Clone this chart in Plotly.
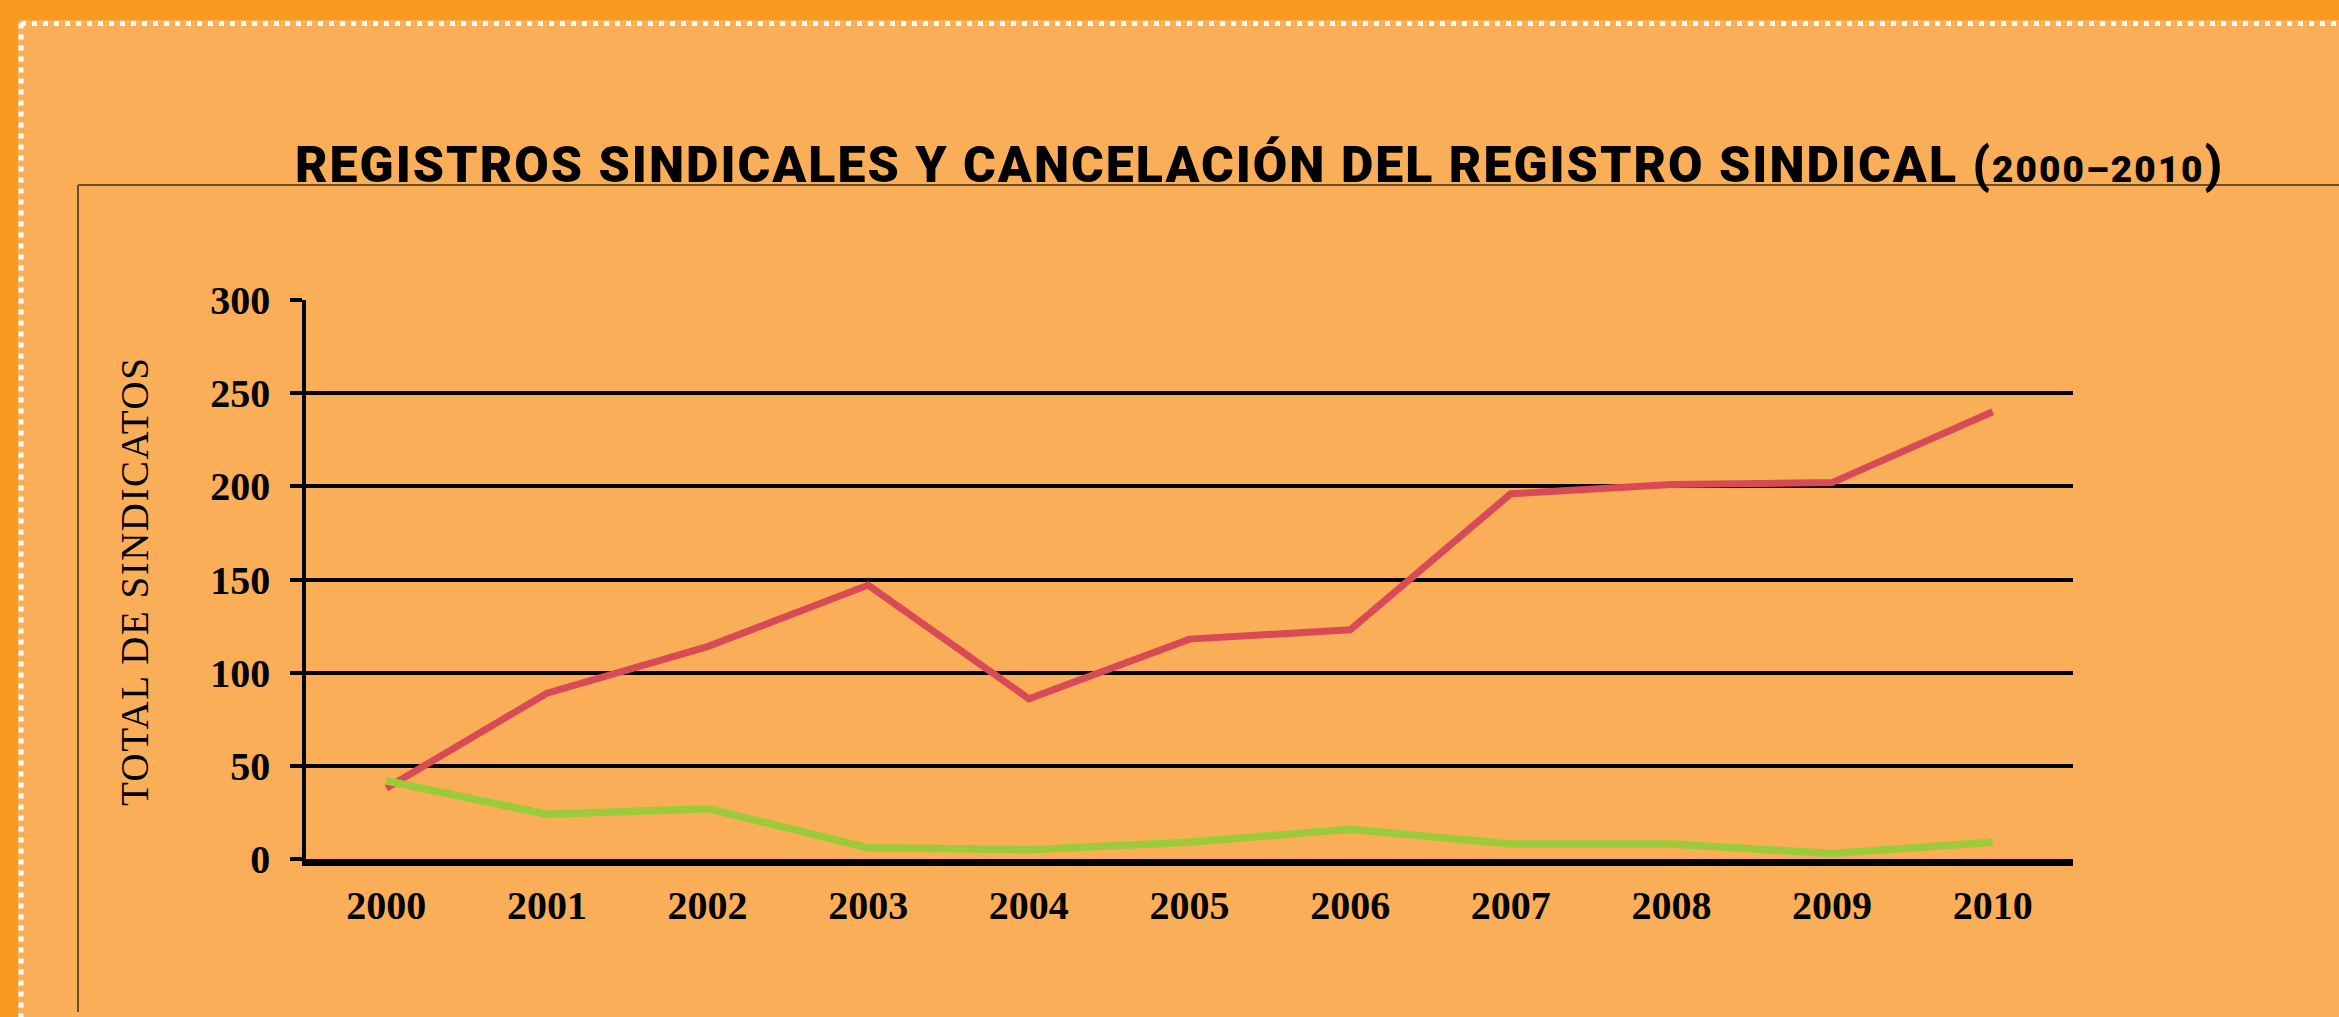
import plotly.graph_objects as go

# ---- data ----
years = ["2000", "2001", "2002", "2003", "2004", "2005", "2006", "2007", "2008", "2009", "2010"]
registros = [38, 89, 114, 147, 86, 118, 123, 196, 201, 202, 240]
cancelaciones = [42, 24, 27, 6, 5, 9, 16, 8, 8, 3, 9]
y_ticks = [0, 50, 100, 150, 200, 250, 300]

title_main = "REGISTROS SINDICALES Y CANCELACIÓN DEL REGISTRO SINDICAL ("
title_years = "2000–2010"
y_title = "TOTAL DE SINDICATOS"

# ---- geometry (page pixels) ----
W, H = 2339, 1017
PL, PR, PT, PB = 306, 2073, 300, 859

def fx(px):
    return (px - PL) / (PR - PL)

def fy(py):
    return (PB - py) / (PB - PT)

LIGHT = "#FBAE58"
DARK = "#F79A1F"
RED = "#D84A55"
GREEN = "#9BCB3B"

fig = go.Figure()
fig.add_trace(go.Scatter(x=years, y=registros, mode="lines",
                         line=dict(color=RED, width=7), name="Registros"))
fig.add_trace(go.Scatter(x=years, y=cancelaciones, mode="lines",
                         line=dict(color=GREEN, width=7.5), name="Cancelaciones"))

shapes = [
    dict(type="rect", xref="paper", yref="paper", x0=fx(0), x1=fx(W), y0=fy(0), y1=fy(20),
         fillcolor=DARK, line_width=0, layer="below"),
    dict(type="rect", xref="paper", yref="paper", x0=fx(0), x1=fx(18), y0=fy(0), y1=fy(H),
         fillcolor=DARK, line_width=0, layer="below"),
    dict(type="line", xref="paper", yref="paper", x0=fx(21), x1=fx(W), y0=fy(23.5), y1=fy(23.5),
         line=dict(color="white", width=5, dash="5px,6px"), layer="below"),
    dict(type="line", xref="paper", yref="paper", x0=fx(21), x1=fx(21), y0=fy(23.5), y1=fy(H),
         line=dict(color="white", width=5, dash="5px,6px"), layer="below"),
    dict(type="line", xref="paper", yref="paper", x0=fx(78), x1=fx(W), y0=fy(185), y1=fy(185),
         line=dict(color="#6E4E26", width=2), layer="below"),
    dict(type="line", xref="paper", yref="paper", x0=fx(78), x1=fx(78), y0=fy(185), y1=fy(1012),
         line=dict(color="#6E4E26", width=2), layer="below"),
]

annotations = [
    dict(text="<span style='letter-spacing:2px'>" + title_main
         + "<span style='font-size:37px'>" + title_years + "</span>)</span>",
         xref="paper", yref="paper", x=fx(293), y=fy(196), xanchor="left", yanchor="bottom",
         showarrow=False, font=dict(family="Roboto, DejaVu Sans", size=50, color="black", weight=900)),
    dict(text="<span style='letter-spacing:1.5px'>" + y_title + "</span>", textangle=-90,
         xref="paper", yref="paper", x=fx(134), y=fy(582),
         xanchor="center", yanchor="middle", showarrow=False,
         font=dict(family="Liberation Serif, serif", size=39, color="black")),
]

fig.update_layout(
    width=W, height=H,
    margin=dict(l=PL, r=W - PR, t=PT, b=H - PB, pad=0),
    paper_bgcolor=LIGHT, plot_bgcolor="rgba(0,0,0,0)",
    showlegend=False,
    shapes=shapes, annotations=annotations,
    xaxis=dict(type="category", range=[-0.5, 10.5], showgrid=False, zeroline=False,
               showline=True, linecolor="black", linewidth=7, ticks="",
               tickfont=dict(family="Liberation Serif, serif", size=40, color="black", weight="bold"),
               ticklabelstandoff=5, fixedrange=True),
    yaxis=dict(range=[0, 300], tickvals=y_ticks, showgrid=True, gridcolor="black", gridwidth=3.5,
               zeroline=False, showline=True, linecolor="black", linewidth=3.5,
               ticks="outside", ticklen=12, tickwidth=3.5, tickcolor="black",
               tickfont=dict(family="Liberation Serif, serif", size=40, color="black", weight="bold"),
               ticklabelstandoff=12, fixedrange=True),
)

fig.write_html("out.html", config={"displayModeBar": False},
               post_script="document.body.style.margin='0';document.body.style.overflow='hidden';")
